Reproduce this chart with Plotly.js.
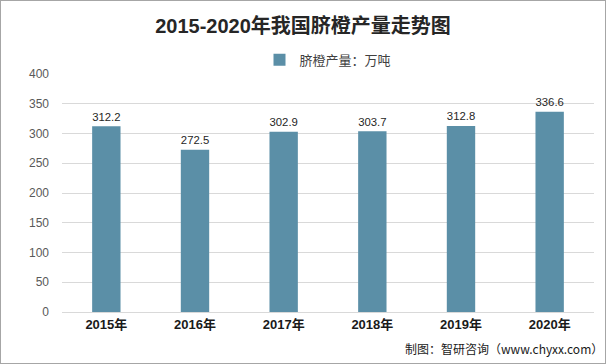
<!DOCTYPE html>
<html><head><meta charset="utf-8">
<script src="https://cdn.plot.ly/plotly-3.0.1.min.js"></script>
<style>html,body{margin:0;padding:0;background:#fff}#c{width:604px;height:362px;border:1px solid #a6a6a6}</style>
</head><body><div id="c"></div>
<script>
const categories = ['2015年','2016年','2017年','2018年','2019年','2020年'];
const production = [312.2, 272.5, 302.9, 303.7, 312.8, 336.6];
const yTicks = [0,50,100,150,200,250,300,350,400];
const seriesName = '脐橙产量：万吨';
const cjk = '"Liberation Sans", "Noto Sans CJK SC", sans-serif';
Plotly.newPlot('c', [{
  type:'bar', x:categories, y:production, name:seriesName,
  marker:{color:'#5b8fa7'},
  text:production.map(v=>v.toFixed(1)), textposition:'outside', cliponaxis:false,
  textfont:{family:cjk, size:13, color:'#262626'}, hoverinfo:'none'
}], {
  width:604, height:362,
  margin:{l:61, r:11, t:73, b:51},
  paper_bgcolor:'#fff', plot_bgcolor:'#fff',
  title:{text:'<b>2015-2020年我国脐橙产量走势图</b>', x:0.5, xanchor:'center', y:0.93, yanchor:'middle',
    font:{family:'"Liberation Sans", "Noto Sans CJK SC", sans-serif', size:20, color:'#262626'}},
  showlegend:true,
  legend:{orientation:'h', x:0.5, xanchor:'center', y:1.06, yanchor:'middle', font:{family:cjk, size:13, color:'#404040'}},
  bargap:0.68,
  xaxis:{type:'category', tickfont:{family:cjk, size:13, color:'#1a1a1a', weight:'bold'}, showline:true, linecolor:'#d9d9d9', ticks:'', fixedrange:true},
  yaxis:{range:[0,400], tickvals:yTicks, showgrid:true, gridcolor:'#d9d9d9', zeroline:false, ticklabelstandoff:12,
    tickfont:{family:cjk, size:12, color:'#595959'}, fixedrange:true},
  annotations:[{text:'制图：智研咨询（www.chyxx.com）', xref:'paper', yref:'paper', x:1.02, y:-0.155, xanchor:'right', yanchor:'middle', showarrow:false,
    font:{family:'"Noto Sans CJK SC", sans-serif', size:12, color:'#1a1a1a'}}]
}, {displayModeBar:false, staticPlot:true});
</script></body></html>
